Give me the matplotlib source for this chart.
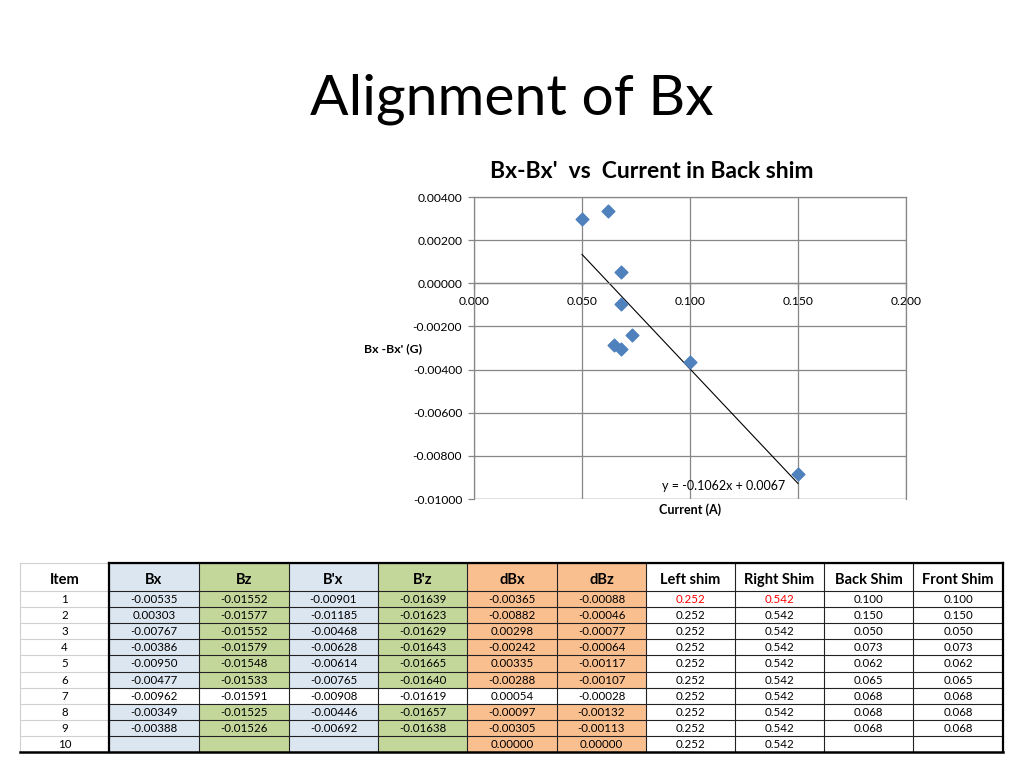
import numpy as np
import matplotlib
matplotlib.use('Agg')
import matplotlib.pyplot as plt
from matplotlib.patches import Rectangle

plt.rcParams['font.family'] = ['Lato', 'DejaVu Sans']

# table data
headers = ['Item', 'Bx', 'Bz', "B'x", "B'z", 'dBx', 'dBz',
           'Left shim', 'Right Shim', 'Back Shim', 'Front Shim']
item = ['1', '2', '3', '4', '5', '6', '7', '8', '9', '10']
bx = ['-0.00535', '0.00303', '-0.00767', '-0.00386', '-0.00950',
      '-0.00477', '-0.00962', '-0.00349', '-0.00388', '']
bz = ['-0.01552', '-0.01577', '-0.01552', '-0.01579', '-0.01548',
      '-0.01533', '-0.01591', '-0.01525', '-0.01526', '']
bpx = ['-0.00901', '-0.01185', '-0.00468', '-0.00628', '-0.00614',
       '-0.00765', '-0.00908', '-0.00446', '-0.00692', '']
bpz = ['-0.01639', '-0.01623', '-0.01629', '-0.01643', '-0.01665',
       '-0.01640', '-0.01619', '-0.01657', '-0.01638', '']
dbx = ['-0.00365', '-0.00882', '0.00298', '-0.00242', '0.00335',
       '-0.00288', '0.00054', '-0.00097', '-0.00305', '0.00000']
dbz = ['-0.00088', '-0.00046', '-0.00077', '-0.00064', '-0.00117',
       '-0.00107', '-0.00028', '-0.00132', '-0.00113', '0.00000']
left_shim = ['0.252'] * 10
right_shim = ['0.542'] * 10
back_shim = ['0.100', '0.150', '0.050', '0.073', '0.062', '0.065',
             '0.068', '0.068', '0.068', '']
front_shim = ['0.100', '0.150', '0.050', '0.073', '0.062', '0.065',
              '0.068', '0.068', '0.068', '']
columns = [item, bx, bz, bpx, bpz, dbx, dbz, left_shim, right_shim,
           back_shim, front_shim]

# chart data: back shim current vs dBx (rows with a back shim value)
current = np.array([float(v) for v in back_shim if v != ''])
dbx_plot = np.array([float(d) for d, v in zip(dbx, back_shim) if v != ''])
fit_label = 'y = -0.1062x + 0.0067'

W, H = 1024, 768
fig = plt.figure(figsize=(W / 100, H / 100), dpi=100)

# slide title
fig.text(512 / W, 1 - 99 / H, 'Alignment of Bx', ha='center', va='center',
         fontsize=41, color='black')

# chart
ax = fig.add_axes([474 / W, 1 - 499 / H, 432 / W, 302 / H])
grid_c = '#878787'
ax.set_xlim(0, 0.2)
ax.set_ylim(-0.01, 0.004)
ax.set_xticks(np.arange(0, 0.2001, 0.05))
ax.set_yticks(np.arange(-0.01, 0.0041, 0.002))
ax.xaxis.set_major_formatter(matplotlib.ticker.FormatStrFormatter('%.3f'))
ax.yaxis.set_major_formatter(matplotlib.ticker.FormatStrFormatter('%.5f'))
ax.grid(True, color=grid_c, linewidth=0.9)
ax.set_axisbelow(True)
for s in ax.spines.values():
    s.set_color(grid_c)
    s.set_linewidth(0.9)
ax.spines['bottom'].set_position(('data', 0))
ax.tick_params(axis='both', labelsize=8.7, color=grid_c, length=4.5,
               width=0.9)
ax.tick_params(axis='x', pad=5)
ax.tick_params(axis='y', pad=4)
ax.axhline(-0.01, color=grid_c, linewidth=0.9)

ax.scatter(current, dbx_plot, marker='D', s=42, color='#4F81BD',
           edgecolor='#4F81BD', zorder=3)
slope, icpt = np.polyfit(current, dbx_plot, 1)
xs = np.array([current.min(), current.max()])
ax.plot(xs, slope * xs + icpt, color='black', linewidth=0.8, zorder=2)
ax.text(0.1155, -0.0094, fit_label, ha='center', va='center', fontsize=9)

fig.text(652 / W, 1 - 172 / H, "Bx-Bx'  vs  Current in Back shim",
         ha='center', va='center', fontsize=16.5, fontweight='bold')
fig.text(393 / W, 1 - 349 / H, "Bx -Bx' (G)", ha='center', va='center',
         fontsize=8.8, fontweight='bold')
fig.text(690 / W, 1 - 510 / H, 'Current (A)', ha='center', va='center',
         fontsize=9, fontweight='bold')

# table, drawn in pixel coordinates
tax = fig.add_axes([0, 0, 1, 1])
tax.set_xlim(0, W)
tax.set_ylim(H, 0)
tax.axis('off')

col_x = [20, 109, 199, 289, 378, 467, 557, 646, 735, 824, 913, 1003]
top, head_h, row_h = 563, 28, 16.1
blue, green, orange = '#DCE6F1', '#C4D79B', '#FABF8F'
col_fill = ['white', blue, green, blue, green, orange, orange,
            'white', 'white', 'white', 'white']

n_rows = len(item)
row_y = [top + head_h + i * row_h for i in range(n_rows + 1)]
bottom = row_y[-1]

for c in range(len(headers)):
    x0, x1 = col_x[c], col_x[c + 1]
    tax.add_patch(Rectangle((x0, top), x1 - x0, head_h,
                            facecolor=col_fill[c], edgecolor='none'))
    tax.text((x0 + x1) / 2, top + head_h / 2 + 3, headers[c], ha='center',
             va='center', fontsize=10.5, fontweight='bold')
    for r in range(n_rows):
        fill = col_fill[c]
        if r == 6 and 1 <= c <= 6:
            fill = 'white'
        tax.add_patch(Rectangle((x0, row_y[r]), x1 - x0, row_h,
                                facecolor=fill, edgecolor='none'))
        color = 'red' if (r == 0 and c in (7, 8)) else 'black'
        tax.text((x0 + x1) / 2, row_y[r] + row_h / 2 + 0.5, columns[c][r],
                 ha='center', va='center', fontsize=8.3, color=color)

# grid lines
light = '#D0D0D0'
dark = '#222222'
for y in [top] + row_y[:-1]:
    tax.plot([col_x[0], col_x[1]], [y, y], color=light, lw=0.8)
    tax.plot([col_x[1], col_x[-1]], [y, y], color=dark, lw=0.8)
tax.plot([col_x[0], col_x[0]], [top, bottom], color=light, lw=0.8)
for x in col_x[2:-1]:
    tax.plot([x, x], [top, bottom], color=dark, lw=0.8)
tax.plot([col_x[1], col_x[-1]], [top, top], color='black', lw=1.6)
tax.plot([col_x[0], col_x[-1]], [bottom, bottom], color='black', lw=1.8)
tax.plot([col_x[1], col_x[1]], [top, bottom], color='black', lw=1.6)
tax.plot([col_x[-1], col_x[-1]], [top, bottom], color='black', lw=1.6)

fig.savefig('out.png', dpi=100)
